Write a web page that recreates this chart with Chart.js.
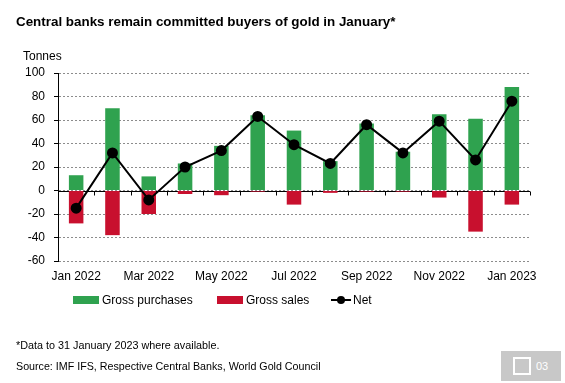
<!DOCTYPE html>
<html><head><meta charset="utf-8">
<script src="https://cdn.jsdelivr.net/npm/chart.js@4/dist/chart.umd.min.js"></script>
<style>
html,body{margin:0;padding:0;background:#fff;}
body{width:565px;height:383px;position:relative;overflow:hidden;font-family:"Liberation Sans",Arial,sans-serif;color:#000;}
#wrap{position:absolute;left:0;top:0;width:565px;height:383px;}
.t{position:absolute;white-space:nowrap;line-height:1;}
#title{left:16px;top:15px;font-size:13.4px;font-weight:bold;}
#unit{left:23px;top:50px;font-size:12px;}
#legend{position:absolute;left:0;top:293px;height:14px;font-size:12px;}
.li{position:absolute;top:0;white-space:nowrap;line-height:14px;}
.sw{position:absolute;top:3px;width:26px;height:8px;}
#n1{left:16px;top:340px;font-size:10.8px;}
#n2{left:16px;top:361px;font-size:10.7px;}
#badge{position:absolute;left:501px;top:351px;width:60px;height:30px;background:#c8c8c8;}
#badge .sq{position:absolute;left:12px;top:6px;width:14px;height:14px;border:2px solid #fff;}
#badge .num{position:absolute;left:35px;top:10px;font-size:11px;color:#fff;line-height:1;}
</style></head>
<body>
<div id="wrap"><canvas id="c" width="565" height="383"></canvas></div>
<div class="t" id="title">Central banks remain committed buyers of gold in January*</div>
<div class="t" id="unit">Tonnes</div>
<div id="legend"></div>
<div class="t" id="n1">*Data to 31 January 2023 where available.</div>
<div class="t" id="n2">Source: IMF IFS, Respective Central Banks, World Gold Council</div>
<div id="badge"><div class="sq"></div><div class="num">03</div></div>
<script>
const categories = ["Jan 2022","Feb 2022","Mar 2022","Apr 2022","May 2022","Jun 2022","Jul 2022","Aug 2022","Sep 2022","Oct 2022","Nov 2022","Dec 2022","Jan 2023"];
const grossPurchases = [13, 70, 12, 23, 38, 64, 51, 25, 57, 33, 65, 61, 88];
const grossSales = [-28, -38, -20, -3, -4, -1, -12, -2, -1, -1, -6, -35, -12];
const net = [-15, 32, -8, 20, 34, 63, 39, 23, 56, 32, 59, 26, 76];
const yTicks = [-60, -40, -20, 0, 20, 40, 60, 80, 100];

const GREEN = '#2fa24f', RED = '#c8102e';

// HTML legend
const legendItems = [
  {label:'Gross purchases', color:GREEN, type:'box', x:73},
  {label:'Gross sales', color:RED, type:'box', x:217},
  {label:'Net', color:'#000', type:'line', x:331}
];
const lg = document.getElementById('legend');
legendItems.forEach(it => {
  const d = document.createElement('div');
  d.className = 'li';
  d.style.left = it.x + 'px';
  if (it.type === 'box') {
    d.innerHTML = '<span class="sw" style="left:0;background:' + it.color + '"></span><span style="margin-left:29px">' + it.label + '</span>';
  } else {
    d.innerHTML = '<span style="position:absolute;left:0;top:6px;width:20px;height:2px;background:#000"></span>' +
      '<span style="position:absolute;left:6px;top:3px;width:8px;height:8px;border-radius:50%;background:#000"></span>' +
      '<span style="margin-left:22px">' + it.label + '</span>';
  }
  lg.appendChild(d);
});

const zeroAxis = {
  id: 'zeroAxis',
  beforeDatasetsDraw(chart) {
    const {ctx, chartArea, scales} = chart;
    const x = scales.x, y = scales.y;
    const y0 = Math.round(y.getPixelForValue(0)) + 0.5;
    ctx.save();
    ctx.strokeStyle = '#000';
    ctx.lineWidth = 1;
    ctx.beginPath();
    ctx.moveTo(chartArea.left, y0);
    ctx.lineTo(chartArea.right, y0);
    const n = categories.length;
    const w = (x.getPixelForValue(1) - x.getPixelForValue(0));
    for (let i = 1; i <= n; i++) {
      const px = Math.round(x.getPixelForValue(i - 1) + w / 2) + 0.5;
      ctx.moveTo(px, y0);
      ctx.lineTo(px, y0 + 4);
    }
    ctx.stroke();
    ctx.restore();
  }
};

new Chart(document.getElementById('c'), {
  data: {
    labels: categories,
    datasets: [
      {type:'bar', label:'Gross purchases', data:grossPurchases, backgroundColor:GREEN, stack:'g', order:2, categoryPercentage:0.8, barPercentage:0.5},
      {type:'bar', label:'Gross sales', data:grossSales, backgroundColor:RED, stack:'g', order:2, categoryPercentage:0.8, barPercentage:0.5},
      {type:'line', label:'Net', data:net, borderColor:'#000', backgroundColor:'#000', borderWidth:2, pointRadius:4.5, pointHoverRadius:4.5, stack:'net', order:1, tension:0}
    ]
  },
  plugins: [zeroAxis],
  options: {
    responsive:false,
    animation:false,
    devicePixelRatio:1,
    layout:{padding:{left:0, right:35, top:73, bottom:0}},
    plugins:{legend:{display:false}, tooltip:{enabled:false}},
    scales:{
      x:{
        stacked:true,
        offset:true,
        grid:{display:false, drawTicks:false},
        border:{display:false},
        ticks:{
          autoSkip:false, maxRotation:0, padding:8,
          color:'#000', font:{family:'"Liberation Sans", Arial, sans-serif', size:12},
          callback:function(v, i){ return i % 2 === 0 ? categories[i] : ''; }
        },
        afterFit:function(s){ s.height = 122; }
      },
      y:{
        stacked:true,
        min:-60, max:100,
        afterBuildTicks:function(s){ s.ticks = yTicks.map(v => ({value:v})); },
        grid:{color:'#8c8c8c', lineWidth:1, drawTicks:true, tickLength:4, tickColor:'#000', tickBorderDash:[]},
        border:{display:true, color:'#000', width:1, dash:[2,2]},
        ticks:{padding:9, color:'#000', font:{family:'"Liberation Sans", Arial, sans-serif', size:12}},
        afterFit:function(s){ s.width = 58; }
      }
    }
  }
});
</script>
</body></html>
